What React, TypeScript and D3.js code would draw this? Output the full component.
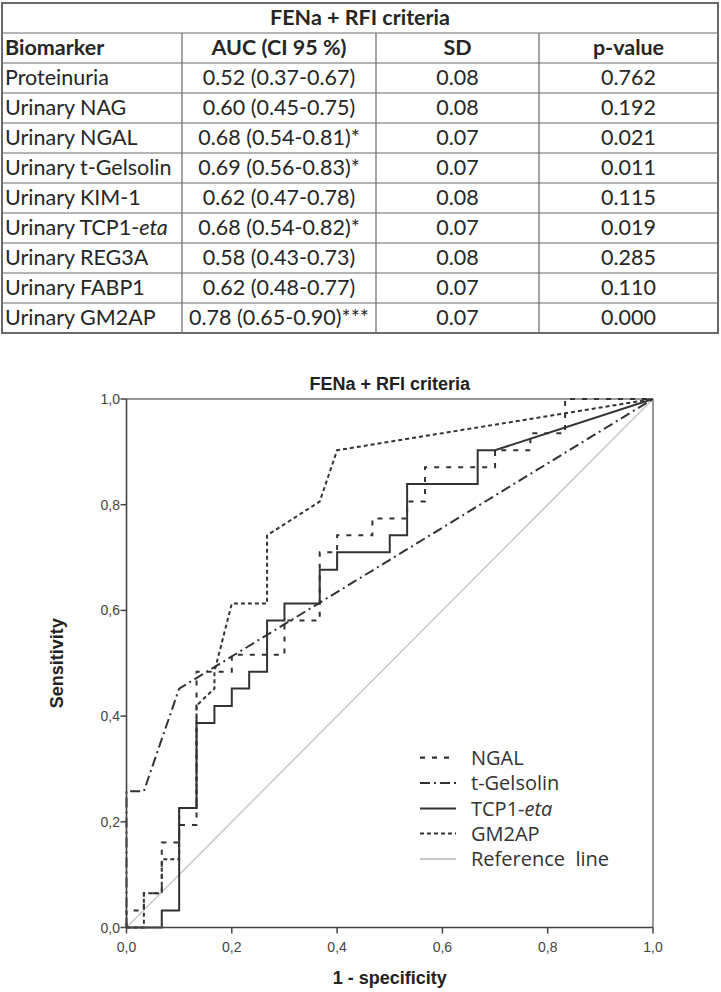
import React from "react";
import * as d3 from "d3";

// ---------- Table data ----------
const tableTitle = "FENa + RFI criteria";
const headers = ["Biomarker", "AUC (CI 95 %)", "SD", "p-value"];
const biomarkers = [
  "Proteinuria",
  "Urinary NAG",
  "Urinary NGAL",
  "Urinary t-Gelsolin",
  "Urinary KIM-1",
  "Urinary TCP1-eta",
  "Urinary REG3A",
  "Urinary FABP1",
  "Urinary GM2AP",
];
const aucs = [
  "0.52 (0.37-0.67)",
  "0.60 (0.45-0.75)",
  "0.68 (0.54-0.81)*",
  "0.69 (0.56-0.83)*",
  "0.62 (0.47-0.78)",
  "0.68 (0.54-0.82)*",
  "0.58 (0.43-0.73)",
  "0.62 (0.48-0.77)",
  "0.78 (0.65-0.90)***",
];
const sds = ["0.08", "0.08", "0.07", "0.07", "0.08", "0.07", "0.08", "0.07", "0.07"];
const pvalues = ["0.762", "0.192", "0.021", "0.011", "0.115", "0.019", "0.285", "0.110", "0.000"];

// ---------- ROC data (1 - specificity, sensitivity) ----------
const ngalFpr = [0, 0, 0.033, 0.033, 0.067, 0.067, 0.1, 0.1, 0.133, 0.133, 0.2, 0.2, 0.3, 0.3, 0.367, 0.367, 0.4, 0.4, 0.467, 0.467, 0.533, 0.533, 0.567, 0.567, 0.7, 0.7, 0.767, 0.767, 0.833, 0.833, 1];
const ngalTpr = [0, 0.032, 0.032, 0.065, 0.065, 0.161, 0.161, 0.194, 0.194, 0.484, 0.484, 0.516, 0.516, 0.581, 0.581, 0.71, 0.71, 0.742, 0.742, 0.774, 0.774, 0.806, 0.806, 0.871, 0.871, 0.903, 0.903, 0.935, 0.935, 1, 1];

const gelsolinFpr = [0, 0, 0.033, 0.1, 1];
const gelsolinTpr = [0, 0.258, 0.258, 0.452, 1];

const tcp1Fpr = [0, 0.067, 0.067, 0.1, 0.1, 0.133, 0.133, 0.167, 0.167, 0.2, 0.2, 0.233, 0.233, 0.267, 0.267, 0.3, 0.3, 0.367, 0.367, 0.4, 0.4, 0.5, 0.5, 0.533, 0.533, 0.667, 0.667, 0.7, 1];
const tcp1Tpr = [0, 0, 0.032, 0.032, 0.226, 0.226, 0.387, 0.387, 0.419, 0.419, 0.452, 0.452, 0.484, 0.484, 0.581, 0.581, 0.613, 0.613, 0.677, 0.677, 0.71, 0.71, 0.742, 0.742, 0.839, 0.839, 0.903, 0.903, 1];

const gm2apFpr = [0, 0.033, 0.033, 0.067, 0.067, 0.1, 0.1, 0.133, 0.133, 0.167, 0.167, 0.2, 0.267, 0.267, 0.367, 0.4, 1];
const gm2apTpr = [0, 0, 0.065, 0.065, 0.129, 0.129, 0.226, 0.226, 0.42, 0.452, 0.484, 0.613, 0.613, 0.742, 0.806, 0.903, 1];

const refFpr = [0, 1];
const refTpr = [0, 1];

const axisTicks = [0, 0.2, 0.4, 0.6, 0.8, 1.0];
const legendLabels = ["NGAL", "t-Gelsolin", "TCP1-eta", "GM2AP", "Reference  line"];

const zip = (xs: number[], ys: number[]) => xs.map((x, i) => [x, ys[i]] as [number, number]);

const series = [
  { name: "NGAL", pts: zip(ngalFpr, ngalTpr), dash: "5,7", color: "#333", width: 2 },
  { name: "t-Gelsolin", pts: zip(gelsolinFpr, gelsolinTpr), dash: "10,4,2,4", color: "#333", width: 2 },
  { name: "TCP1-eta", pts: zip(tcp1Fpr, tcp1Tpr), dash: "none", color: "#333", width: 2 },
  { name: "GM2AP", pts: zip(gm2apFpr, gm2apTpr), dash: "4,3", color: "#333", width: 2 },
  { name: "Reference line", pts: zip(refFpr, refTpr), dash: "none", color: "#c8c8c8", width: 1.5 },
];

function Label({ text, x, y, anchor, bold }: { text: string; x: number; y: number; anchor: string; bold?: boolean }) {
  const m = text.match(/^(.*)-eta$/);
  return (
    <text x={x} y={y} textAnchor={anchor as any} fontWeight={bold ? "bold" : "normal"}>
      {m ? (
        <>
          {m[1]}-<tspan fontStyle="italic">eta</tspan>
        </>
      ) : (
        text
      )}
    </text>
  );
}

export default function App() {
  const W = 721;
  const H = 992;

  // table geometry
  const colX = [2, 182, 376, 539, 718];
  const rowTop = 3;
  const rowH = 30;
  const nRows = 2 + biomarkers.length;
  const tableBottom = rowTop + nRows * rowH;

  // chart scales
  const x = d3.scaleLinear().domain([0, 1]).range([126.5, 653]);
  const y = d3.scaleLinear().domain([0, 1]).range([927.5, 399]);
  const line = d3
    .line<[number, number]>()
    .x((d) => x(d[0]))
    .y((d) => y(d[1]));
  const fmt = (v: number) => d3.format(".1f")(v).replace(".", ",");

  const legendX0 = 420;
  const legendX1 = 456;
  const legendY = [757.7, 783, 808.5, 833.5, 859];

  return (
    <svg width={W} height={H} style={{ position: "absolute", left: 0, top: 0, background: "#fff" }}>
      <rect x={0} y={0} width={W} height={H} fill="#fff" />
      {/* ---------- Table ---------- */}
      <g fontFamily="Lato, 'Open Sans', sans-serif" fontSize={21.5} fill="#262626">
        {d3.range(1, nRows).map((r) => (
          <line key={"h" + r} x1={colX[0]} x2={colX[4]} y1={rowTop + r * rowH} y2={rowTop + r * rowH} stroke="#6a6a6a" strokeWidth={1.2} />
        ))}
        {colX.slice(1, 4).map((cx, i) => (
          <line key={"v" + i} x1={cx} x2={cx} y1={rowTop + rowH} y2={tableBottom} stroke="#6a6a6a" strokeWidth={1.2} />
        ))}
        <rect x={colX[0]} y={rowTop} width={colX[4] - colX[0]} height={tableBottom - rowTop} fill="none" stroke="#6a6a6a" strokeWidth={2} />
        <text x={(colX[0] + colX[4]) / 2} y={rowTop + 22} textAnchor="middle" fontWeight="bold">
          {tableTitle}
        </text>
        {headers.map((h, i) => (
          <Label
            key={"hd" + i}
            text={h}
            x={i === 0 ? colX[0] + 3 : (colX[i] + colX[i + 1]) / 2}
            y={rowTop + rowH + 22}
            anchor={i === 0 ? "start" : "middle"}
            bold
          />
        ))}
        {biomarkers.map((b, r) => {
          const by = rowTop + (r + 2) * rowH + 22;
          const vals = [b, aucs[r], sds[r], pvalues[r]];
          return (
            <g key={"row" + r}>
              {vals.map((v, i) => (
                <Label
                  key={i}
                  text={v}
                  x={i === 0 ? colX[0] + 3 : (colX[i] + colX[i + 1]) / 2}
                  y={by}
                  anchor={i === 0 ? "start" : "middle"}
                />
              ))}
            </g>
          );
        })}
      </g>

      {/* ---------- Chart ---------- */}
      <g fontFamily="'Liberation Sans', Arial, sans-serif">
        <text x={(x(0) + x(1)) / 2} y={390} textAnchor="middle" fontWeight="bold" fontSize={18} fill="#222">
          FENa + RFI criteria
        </text>

        {/* frame */}
        <line x1={x(0)} x2={x(1)} y1={y(1)} y2={y(1)} stroke="#777" strokeWidth={1.5} />
        <line x1={x(1)} x2={x(1)} y1={y(1)} y2={y(0)} stroke="#777" strokeWidth={1.5} />

        {/* curves */}
        {[series[4], series[0], series[1], series[3], series[2]].map((s) => (
          <path
            key={s.name}
            d={line(s.pts) || ""}
            fill="none"
            stroke={s.color}
            strokeWidth={s.width}
            strokeDasharray={s.dash}
            strokeLinejoin="miter"
          />
        ))}

        {/* axes */}
        <line x1={x(0)} x2={x(0)} y1={y(1)} y2={y(0)} stroke="#444" strokeWidth={1.6} />
        <line x1={x(0)} x2={x(1)} y1={y(0)} y2={y(0)} stroke="#444" strokeWidth={1.6} />
        {axisTicks.map((t) => (
          <g key={"xt" + t}>
            <line x1={x(t)} x2={x(t)} y1={y(0)} y2={y(0) + 6} stroke="#444" strokeWidth={1.5} />
            <text x={x(t)} y={952} textAnchor="middle" fontSize={14} fill="#444">
              {fmt(t)}
            </text>
          </g>
        ))}
        {axisTicks.map((t) => (
          <g key={"yt" + t}>
            <line x1={x(0) - 6} x2={x(0)} y1={y(t)} y2={y(t)} stroke="#444" strokeWidth={1.5} />
            <text x={120} y={y(t) + 5} textAnchor="end" fontSize={14} fill="#444">
              {fmt(t)}
            </text>
          </g>
        ))}

        <text x={(x(0) + x(1)) / 2} y={984} textAnchor="middle" fontWeight="bold" fontSize={18} fill="#222">
          1 - specificity
        </text>
        <text
          transform={`translate(63, ${(y(0) + y(1)) / 2}) rotate(-90)`}
          textAnchor="middle"
          fontWeight="bold"
          fontSize={18}
          fill="#222"
        >
          Sensitivity
        </text>

        {/* legend */}
        <g fontFamily="'Open Sans', sans-serif" fontSize={20} fill="#333">
          {legendLabels.map((lab, i) => {
            const s = series[i];
            return (
              <g key={"lg" + i}>
                <line
                  x1={legendX0}
                  x2={legendX1}
                  y1={legendY[i]}
                  y2={legendY[i]}
                  stroke={s.color}
                  strokeWidth={i === 4 ? 2 : 2.2}
                  strokeDasharray={s.dash}
                />
                <text x={471} y={legendY[i] + 7} style={{ whiteSpace: "pre" }}>
                  {lab.endsWith("-eta") ? (
                    <>
                      TCP1-<tspan fontStyle="italic">eta</tspan>
                    </>
                  ) : (
                    lab
                  )}
                </text>
              </g>
            );
          })}
        </g>
      </g>
    </svg>
  );
}
